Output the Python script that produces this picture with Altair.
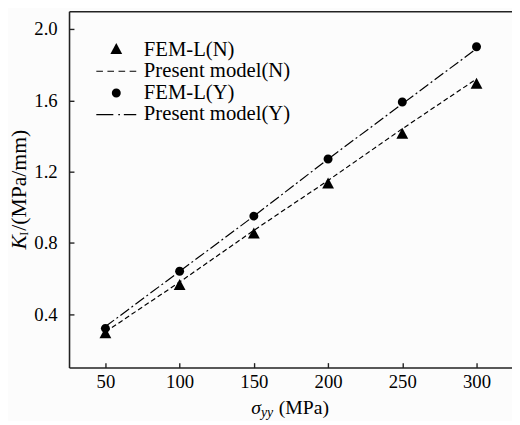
import altair as alt
import pandas as pd

# ---- data ----
x_vals = [50, 100, 150, 200, 250, 300]
fem_n = [0.29, 0.56, 0.85, 1.13, 1.41, 1.69]
fem_y = [0.32, 0.64, 0.95, 1.27, 1.59, 1.90]
model_n = [0.30, 0.58, 0.87, 1.15, 1.44, 1.72]
model_y = [0.33, 0.64, 0.95, 1.27, 1.58, 1.89]
series_order = ["FEM-L(N)", "Present model(N)", "FEM-L(Y)", "Present model(Y)"]
x_ticks = [50, 100, 150, 200, 250, 300]
y_ticks = [0.4, 0.8, 1.2, 1.6, 2.0]
y_title_parts = ["K", "I", "/(MPa/mm)"]
x_title_parts = ["σ", "yy", "(MPa)"]

pts = pd.DataFrame({
    "s": x_vals * 2,
    "k": fem_n + fem_y,
    "series": [series_order[0]] * len(x_vals) + [series_order[2]] * len(x_vals),
})
lines = pd.DataFrame({
    "s": x_vals * 2,
    "k": model_n + model_y,
    "series": [series_order[1]] * len(x_vals) + [series_order[3]] * len(x_vals),
})

W, H = 450, 362
FONT = "Liberation Serif"
xscale = alt.Scale(domain=[25.5, 323.9], nice=False, zero=False)
yscale = alt.Scale(domain=[0.1, 2.1], nice=False, zero=False)


def rects(segs, t=0.05):
    return "".join(f"M{a},{-t}H{b}V{t}H{a}Z" for a, b in segs)


shape_range = [
    "M0,-0.55L0.5,0.38L-0.5,0.38Z",
    rects([(-1.69, -1.13), (-0.75, -0.19), (0.19, 0.75), (1.13, 1.69)]),
    "M-0.38,0A0.38,0.38 0 1,0 0.38,0A0.38,0.38 0 1,0 -0.38,0Z",
    rects([(-1.69, -0.25), (0.17, 0.31), (0.64, 1.69)]),
]

legend = alt.Legend(
    title=None, orient="none", legendX=36, legendY=27,
    labelFont=FONT, labelFontSize=21, labelColor="black",
    symbolSize=576, rowPadding=0, labelOffset=16, padding=0,
    symbolStrokeWidth=0, symbolFillColor="black",
)

points = alt.Chart(pts).mark_point(
    filled=True, size=576, color="black", opacity=1
).encode(
    x=alt.X("s:Q", scale=xscale, axis=alt.Axis(
        orient="bottom", values=x_ticks, ticks=False, labelFont=FONT, labelFontSize=19,
        labelColor="black", labelPadding=5, domainColor="#222", domainWidth=1.6,
        grid=False, title=None, format="d")),
    y=alt.Y("k:Q", scale=yscale, axis=alt.Axis(
        orient="left", values=y_ticks, ticks=False, labelFont=FONT, labelFontSize=19,
        labelColor="black", labelPadding=12, domainColor="#222", domainWidth=1.6,
        grid=False, title=None, format=".1f")),
    shape=alt.Shape("series:N", scale=alt.Scale(domain=series_order, range=shape_range), legend=legend),
)

model = alt.Chart(lines).mark_line(color="black", strokeWidth=1.2).encode(
    x=alt.X("s:Q", scale=xscale, axis=None),
    y=alt.Y("k:Q", scale=yscale, axis=None),
    strokeDash=alt.StrokeDash("series:N", scale=alt.Scale(
        domain=[series_order[1], series_order[3]], range=[[5, 3], [11, 3, 2, 3]]), legend=None),
    detail="series:N",
)

inner_ticks = alt.Chart(pts).mark_point(opacity=0).encode(
    x=alt.X("s:Q", scale=xscale, axis=alt.Axis(
        orient="top", offset=-H, values=x_ticks, labels=False, domain=False,
        ticks=True, tickSize=5, tickColor="#222", tickWidth=1.4, grid=False, title=None)),
    y=alt.Y("k:Q", scale=yscale, axis=alt.Axis(
        orient="right", offset=-W, values=y_ticks, labels=False, domain=False,
        ticks=True, tickSize=5, tickColor="#222", tickWidth=1.4, grid=False, title=None)),
)

top_border = alt.Chart(pts).mark_point(opacity=0).encode(
    x=alt.X("s:Q", scale=xscale, axis=alt.Axis(
        orient="top", labels=False, ticks=False, domain=True, domainColor="#222",
        domainWidth=1.6, grid=False, title=None)),
    y=alt.Y("k:Q", scale=yscale, axis=None),
)


def txt(s, x, y, size, italic=False, angle=0, baseline="alphabetic", font=FONT):
    kw = dict(font=font, fontSize=size, color="black", align="left", baseline=baseline)
    if italic:
        kw["fontStyle"] = "italic"
    if angle:
        kw["angle"] = angle
    return alt.Chart(pd.DataFrame({"t": [s]})).mark_text(**kw).encode(
        text="t:N", x=alt.value(x), y=alt.value(y))


titles = [
    txt(y_title_parts[0], -51, 242, 22, italic=True, angle=270, baseline="middle"),
    txt(y_title_parts[1], -46, 228, 12, angle=270, baseline="middle"),
    txt(y_title_parts[2], -51, 223, 22, angle=270, baseline="middle"),
    txt(x_title_parts[0], 185, 409, 20, italic=True),
    txt(x_title_parts[1], 195, 412, 14, italic=True),
    txt(x_title_parts[2], 213, 409, 20),
]

chart = alt.layer(model, points, inner_ticks, top_border, *titles).resolve_axis(
    x="independent", y="independent"
).properties(
    width=W, height=H,
    padding={"left": 62, "top": 0, "right": 0, "bottom": 51},
    autosize=alt.AutoSizeParams(type="none"),
    background="#fcfcfc",
).configure_view(stroke=None)

chart.save("out.html", embed_options={"renderer": "svg", "actions": False})
